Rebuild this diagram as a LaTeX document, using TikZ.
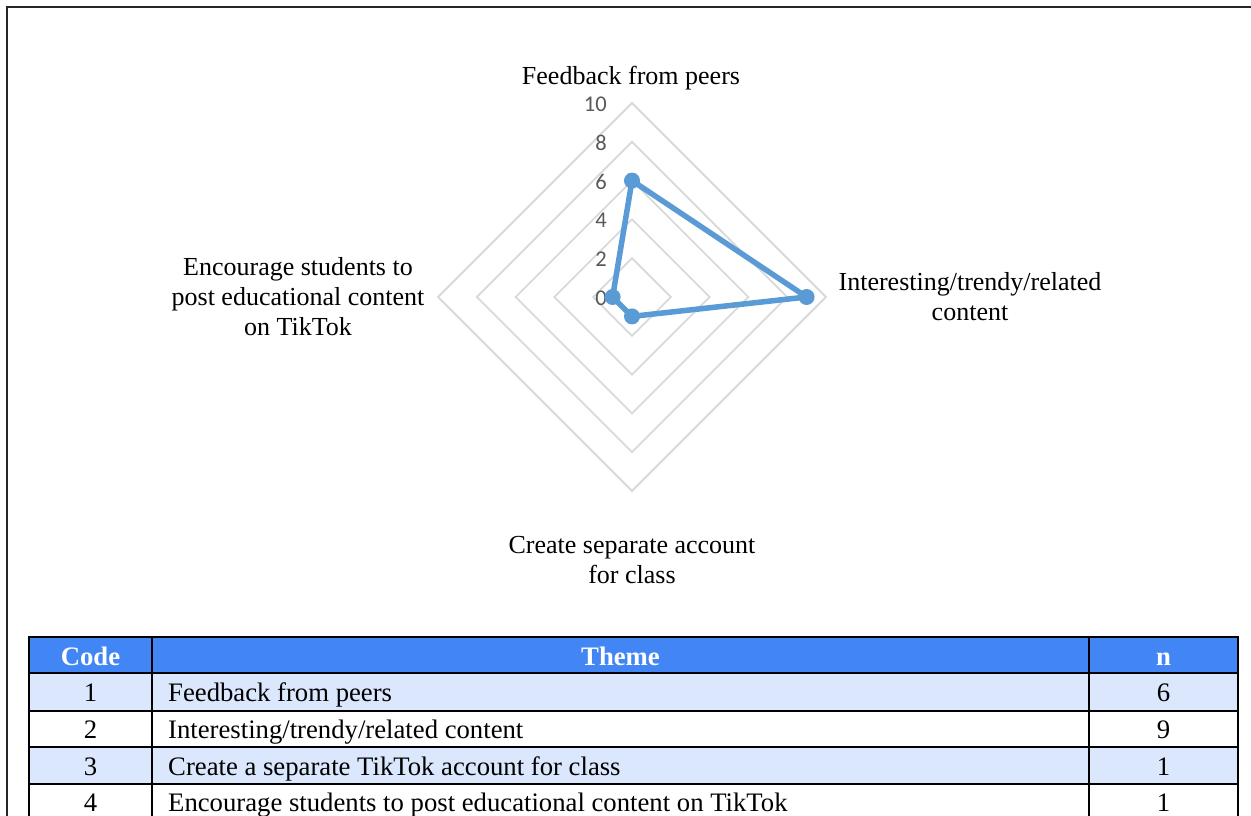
\documentclass[tikz,border=0pt]{standalone}
\usepackage{fontspec}
\setmainfont{Liberation Serif}
\newfontfamily\calib{Carlito}
\definecolor{gridc}{HTML}{D9D9D9}
\definecolor{datac}{HTML}{5B9BD5}
\definecolor{axc}{HTML}{595959}
\definecolor{headc}{HTML}{4285F4}
\definecolor{lightc}{HTML}{DAE7FC}
\begin{document}
\begin{tikzpicture}[x=1pt,y=-1pt,
  lbl/.style={font=\fontsize{26}{30}\selectfont, align=center, inner sep=0pt},
  axlbl/.style={font=\calib\fontsize{22.5}{24}\selectfont, text=axc, anchor=east, inner sep=0pt},
  gridline/.style={draw=gridc, line width=1.8pt},
  dataline/.style={draw=datac, line width=5.5pt, line join=round},
  marker/.style={circle, fill=datac, minimum size=16pt, inner sep=0pt},
  cell/.style={font=\fontsize{26.7}{30}\selectfont, inner sep=0pt, anchor=base},
  headcell/.style={font=\bfseries\fontsize{26.7}{30}\selectfont, text=white, inner sep=0pt, anchor=base},
  tline/.style={draw=black, line width=2.2pt}]
\useasboundingbox (0,0) rectangle (1251,816);
\fill[white] (0,0) rectangle (1251,816);
% outer frame
\draw[line width=2pt, black!85] (6.5,830) -- (6.5,7) -- (1260,7);
% grid
\foreach \r in {1,...,5}{
  \pgfmathsetmacro\d{38.8*\r}
  \draw[gridline] (632,297-\d) -- (632+\d,297) -- (632,297+\d) -- (632-\d,297) -- cycle;
}
% axis labels
\foreach \v in {0,2,4,6,8,10}{
  \node[axlbl] (ax\v) at (607,298-19.4*\v) {\v};
}
% data
\coordinate (p1) at (632,180.6);
\coordinate (p2) at (806.6,297);
\coordinate (p3) at (632,316.4);
\coordinate (p4) at (612.6,297);
\draw[dataline] (p1) -- (p2) -- (p3) -- (p4) -- cycle;
\foreach \i in {1,...,4}{ \node[marker] (m\i) at (p\i) {}; }
% category labels
\node[lbl] (l1) at (631,78) {Feedback from peers};
\node[lbl] (l2) at (970,297) {Interesting/trendy/related\\content};
\node[lbl] (l3) at (632,560) {Create separate account\\for class};
\node[lbl] (l4) at (298,297) {Encourage students to\\post educational content\\on TikTok};
% table fills
\fill[headc] (29,637) rectangle (1238,673);
\fill[lightc] (29,673) rectangle (1238,711);
\fill[lightc] (29,747) rectangle (1238,784);
% table lines
\draw[tline] (29,637) rectangle (1238,830);
\foreach \y in {673,711,747,784}{ \draw[tline] (29,\y) -- (1238,\y); }
\draw[tline] (152,637) -- (152,830);
\draw[tline] (1089,637) -- (1089,830);
% header
\node[headcell] (hc) at (90.5,665) {Code};
\node[headcell] (ht) at (620.5,665) {Theme};
\node[headcell] (hn) at (1163.5,665) {n};
% rows
\node[cell] (c1) at (90.5,701) {1};
\node[cell, anchor=base west] (t1) at (168,701) {Feedback from peers};
\node[cell] (n1) at (1163.5,701) {6};
\node[cell] (c2) at (90.5,738) {2};
\node[cell, anchor=base west] (t2) at (168,738) {Interesting/trendy/related content};
\node[cell] (n2) at (1163.5,738) {9};
\node[cell] (c3) at (90.5,775) {3};
\node[cell, anchor=base west] (t3) at (168,775) {Create a separate TikTok account for class};
\node[cell] (n3) at (1163.5,775) {1};
\node[cell] (c4) at (90.5,811) {4};
\node[cell, anchor=base west] (t4) at (168,811) {Encourage students to post educational content on TikTok};
\node[cell] (n4) at (1163.5,811) {1};
\end{tikzpicture}
\end{document}
